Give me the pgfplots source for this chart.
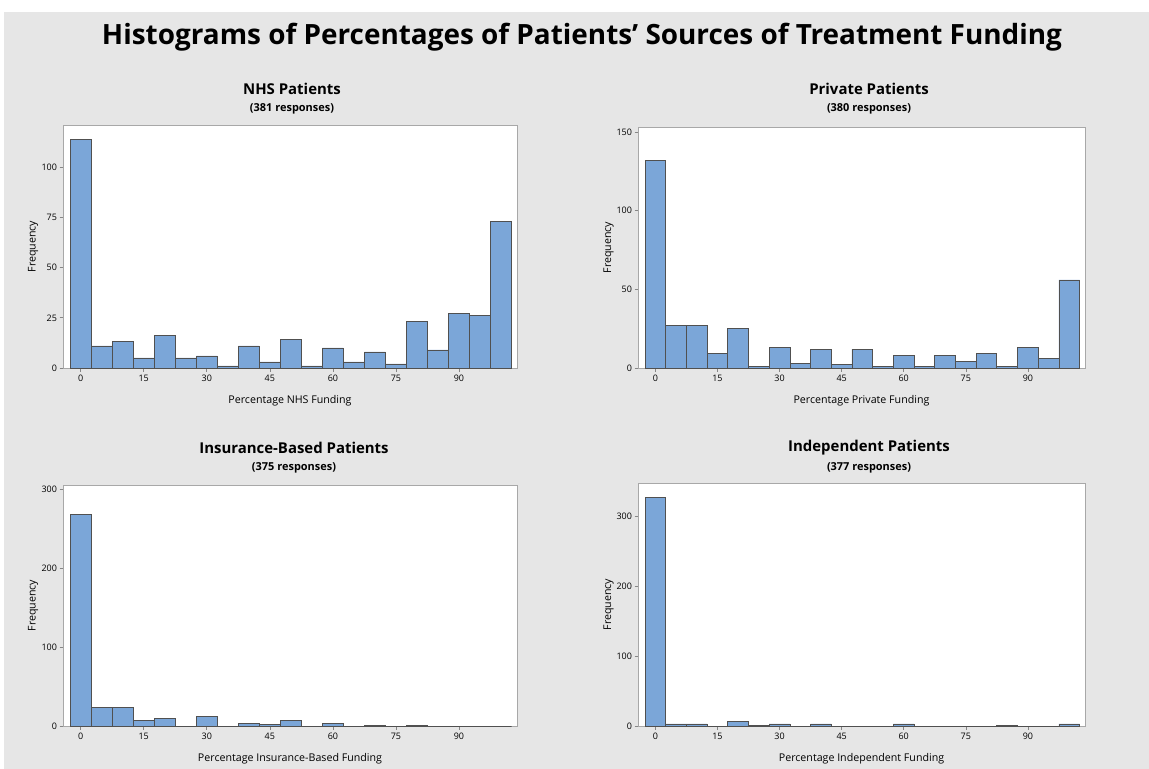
\documentclass[border=0pt]{standalone}
\usepackage{fontspec}
\setmainfont{Open Sans}
\usepackage{pgfplots}
\pgfplotsset{compat=1.18}
\definecolor{bg}{RGB}{230,230,230}
\definecolor{barblue}{RGB}{123,166,216}
\definecolor{edge}{RGB}{80,80,80}
\definecolor{frame}{RGB}{168,168,168}
\pgfplotsset{
  hist/.style={
    scale only axis,
    xmin=-4.2, xmax=103.8, ymin=0,
    xtick={0,15,...,90},
    tick align=outside, xtick pos=bottom, ytick pos=left,
    major tick length=3.5bp,
    axis background/.style={fill=white},
    axis line style={draw=frame, line width=0.8bp},
    tick style={draw=frame!80!black, line width=0.6bp},
    ticklabel style={font=\fontsize{9}{10}\selectfont},
    yticklabel style={xshift=1bp},
    /pgf/number format/assume math mode=true,
    every axis x label/.style={at={(axis description cs:0.5,0)}, anchor=base, yshift=-35bp, font=\fontsize{10.7}{12}\selectfont},
    every axis y label/.style={at={(axis description cs:-0.066,0.5)}, anchor=center, rotate=90, font=\fontsize{10.7}{12}\selectfont},
    ylabel={Frequency},
  },
  bars/.style={ybar interval, fill=barblue, draw=edge, line width=0.8bp},
}
\begin{document}
\begin{tikzpicture}
\path[use as bounding box] (0bp,0bp) rectangle (1149bp,-769bp);
\fill[white] (0bp,0bp) rectangle (1149bp,-769bp);
\fill[bg] (4bp,-12bp) rectangle (1149bp,-769bp);
\node[font=\fontsize{28}{32}\selectfont\bfseries] at (582bp,-37bp) {Histograms of Percentages of Patients' Sources of Treatment Funding};

\node[font=\fontsize{15}{17}\selectfont\bfseries] at (292bp,-89bp) {NHS Patients};
\node[font=\fontsize{11}{12}\selectfont\bfseries] at (292bp,-109bp) {(381 responses)};
\node[font=\fontsize{15}{17}\selectfont\bfseries] at (869bp,-89bp) {Private Patients};
\node[font=\fontsize{11}{12}\selectfont\bfseries] at (869bp,-109bp) {(380 responses)};
\node[font=\fontsize{15}{17}\selectfont\bfseries] at (294bp,-448bp) {Insurance-Based Patients};
\node[font=\fontsize{11}{12}\selectfont\bfseries] at (294bp,-468bp) {(375 responses)};
\node[font=\fontsize{15}{17}\selectfont\bfseries] at (869bp,-448bp) {Independent Patients};
\node[font=\fontsize{11}{12}\selectfont\bfseries] at (869bp,-468bp) {(377 responses)};

\begin{axis}[hist, at={(63bp,-368bp)}, anchor=south west, width=454bp, height=243bp,
  ymax=121, ytick={0,25,50,75,100}, xlabel={Percentage NHS Funding}]
\addplot[bars] coordinates {(-2.5,114) (2.5,11) (7.5,13) (12.5,5) (17.5,16) (22.5,5) (27.5,6) (32.5,1) (37.5,11) (42.5,3) (47.5,14) (52.5,1) (57.5,10) (62.5,3) (67.5,8) (72.5,2) (77.5,23) (82.5,9) (87.5,27) (92.5,26) (97.5,73) (102.5,0)};
\end{axis}

\begin{axis}[hist, at={(638bp,-368bp)}, anchor=south west, width=447bp, height=241bp,
  ymax=153.2, ytick={0,50,100,150}, xlabel={Percentage Private Funding}]
\addplot[bars] coordinates {(-2.5,132) (2.5,27) (7.5,27) (12.5,9) (17.5,25) (22.5,1) (27.5,13) (32.5,3) (37.5,12) (42.5,2) (47.5,12) (52.5,1) (57.5,8) (62.5,1) (67.5,8) (72.5,4) (77.5,9) (82.5,1) (87.5,13) (92.5,6) (97.5,56) (102.5,0)};
\end{axis}

\begin{axis}[hist, at={(63bp,-726bp)}, anchor=south west, width=454bp, height=241bp,
  ymax=305.9, ytick={0,100,200,300}, xlabel={Percentage Insurance-Based Funding}]
\addplot[bars] coordinates {(-2.5,269) (2.5,24) (7.5,24) (12.5,7) (17.5,10) (22.5,0) (27.5,12) (32.5,0) (37.5,3) (42.5,2) (47.5,7) (52.5,0) (57.5,3) (62.5,0) (67.5,1) (72.5,0) (77.5,1) (82.5,0) (87.5,0) (92.5,0) (97.5,0) (102.5,0)};
\end{axis}

\begin{axis}[hist, at={(638bp,-726bp)}, anchor=south west, width=447bp, height=243bp,
  ymax=348, ytick={0,100,200,300}, xlabel={Percentage Independent Funding}]
\addplot[bars] coordinates {(-2.5,327) (2.5,3) (7.5,3) (12.5,0) (17.5,6) (22.5,1) (27.5,3) (32.5,0) (37.5,3) (42.5,0) (47.5,0) (52.5,0) (57.5,3) (62.5,0) (67.5,0) (72.5,0) (77.5,0) (82.5,1) (87.5,0) (92.5,0) (97.5,3) (102.5,0)};
\end{axis}
\end{tikzpicture}
\end{document}
